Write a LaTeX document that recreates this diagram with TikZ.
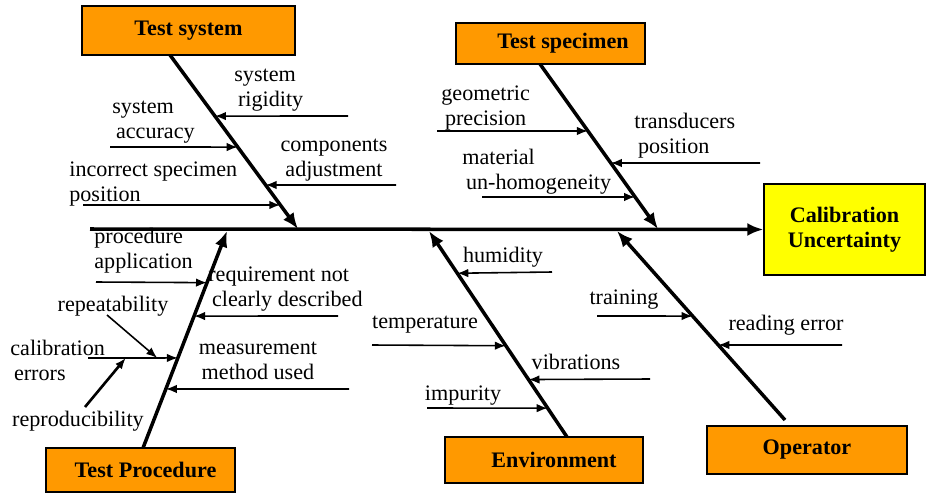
\documentclass[tikz,border=0pt]{standalone}
\usepackage{fontspec}
\setmainfont{LiberationSerif}[Extension=.ttf,UprightFont=*-Regular,BoldFont=*-Bold,ItalicFont=*-Italic,BoldItalicFont=*-BoldItalic]
\usetikzlibrary{arrows.meta,calc}
\definecolor{boxorange}{RGB}{255,153,0}
\definecolor{boxyellow}{RGB}{255,255,0}

\begin{document}
\begin{tikzpicture}[x=0.02cm,y=-0.02cm,
  >={Latex[length=2.2mm,width=1.7mm]},
  every node/.style={font=\fontsize{12.6}{14.2}\selectfont},
  cause/.style={rectangle,draw=black,line width=0.8pt,fill=boxorange,inner sep=0pt,font=\fontsize{12.6}{14.2}\selectfont\bfseries},
  effect/.style={rectangle,draw=black,line width=0.8pt,fill=boxyellow,inner sep=0pt,align=center,font=\fontsize{12.6}{14.2}\selectfont\bfseries},
  lbl/.style={inner sep=0pt,align=left},
  bone/.style={line width=2pt,->,>={Latex[length=3.2mm,width=2.6mm]}},
  twig/.style={line width=0.9pt,->}]
  \useasboundingbox (0,0) rectangle (930,494);

  \node[cause,minimum width=4.26cm,minimum height=0.98cm] (tsys) at (188.5,30.5) {Test system};
  \node[cause,minimum width=3.78cm,minimum height=0.82cm] (tspec) at (550.5,43.5) {\hspace{0.5cm}Test specimen};
  \node[cause,minimum width=3.78cm,minimum height=0.88cm] (tproc) at (140.5,470) {\hspace{0.2cm}Test Procedure};
  \node[cause,minimum width=3.96cm,minimum height=0.92cm] (env) at (544,460) {\hspace{0.4cm}Environment};
  \node[cause,minimum width=4.00cm,minimum height=0.96cm] (oper) at (807,450) {Operator};
  \node[effect,minimum width=3.22cm,minimum height=1.82cm] (calib) at (844.5,229.5) {Calibration\\Uncertainty};

  \coordinate (spinel) at (90,229);
  \draw[bone] (spinel) -- (calib.west);

  \coordinate (b1) at (170,55);  \coordinate (j1) at (298,229);
  \coordinate (b2) at (540,64);  \coordinate (j2) at (658,229);
  \coordinate (b3) at (143,448); \coordinate (j3) at (227,231);
  \coordinate (b4) at (567,437); \coordinate (j4) at (429,231);
  \coordinate (b5) at (785,420); \coordinate (j5) at (617,231);
  \draw[bone] (b1) -- (j1);
  \draw[bone] (b2) -- (j2);
  \draw[bone] (b3) -- (j3);
  \draw[bone] (b4) -- (j4);
  \draw[bone] (b5) -- (j5);

  \node[lbl,anchor=west] (rigid) at (234,90) {system\\\,rigidity};
  \coordinate (rigids) at (348,116);
  \draw[twig] (rigids) -- ($(b1)!0.351!(j1)$);
  \node[lbl,anchor=west] (accur) at (112,122) {system\\\,accuracy};
  \coordinate (accurs) at (110,147);
  \draw[twig] (accurs) -- ($(b1)!0.529!(j1)$);
  \node[lbl,align=center] (compadj) at (334,160) {components\\adjustment};
  \coordinate (compadjs) at (396,185);
  \draw[twig] (compadjs) -- ($(b1)!0.747!(j1)$);
  \node[lbl,anchor=west] (incpos) at (69,184) {incorrect specimen\\position};
  \coordinate (incposs) at (83,205);
  \draw[twig] (incposs) -- ($(b1)!0.862!(j1)$);

  \node[lbl,anchor=west] (geoprec) at (441,108) {geometric\\\,precision};
  \coordinate (geoprecs) at (437,131);
  \draw[twig] (geoprecs) -- ($(b2)!0.406!(j2)$);
  \node[lbl,anchor=west] (transpos) at (634,136) {transducers\\\,position};
  \coordinate (transposs) at (760,163);
  \draw[twig] (transposs) -- ($(b2)!0.6!(j2)$);
  \node[lbl,anchor=west] (mathom) at (462,172) {material\\\,un-homogeneity};
  \coordinate (mathoms) at (482,197);
  \draw[twig] (mathoms) -- ($(b2)!0.806!(j2)$);

  \node[lbl,anchor=west] (procapp) at (94,251) {procedure\\application};
  \coordinate (procapps) at (96,282);
  \draw[twig] (procapps) -- ($(b3)!0.762!(j3)$);
  \node[lbl,anchor=west] (reqnot) at (208,289) {requirement not\\\,clearly described};
  \coordinate (reqnots) at (338,316);
  \draw[twig] (reqnots) -- ($(b3)!0.608!(j3)$);
  \node[lbl,align=center] (measmeth) at (258,361) {measurement\\method used};
  \coordinate (measmeths) at (349,389);
  \draw[twig] (measmeths) -- ($(b3)!0.272!(j3)$);
  \node[lbl,anchor=west] (calerr) at (10,360) {calibration\\\,errors};
  \coordinate (calerrs) at (88,358);
  \coordinate (calerre) at ($(b3)!0.415!(j3)$);
  \draw[twig] (calerrs) -- (calerre);
  \node[lbl] (repeat) at (113,306) {repeatability};
  \coordinate (repeats) at (107,315);
  \draw[twig] (repeats) -- ($(calerrs)!0.77!(calerre)$);
  \node[lbl] (reprod) at (78,421) {reproducibility};
  \coordinate (reprods) at (85,407);
  \draw[twig,line width=1.5pt] (reprods) -- ($(calerrs)!0.42!(calerre)$);

  \node[lbl] (humid) at (503,257) {humidity};
  \coordinate (humids) at (552,272);
  \draw[twig] (humids) -- ($(b4)!0.795!(j4)$);
  \node[lbl] (temp) at (425,325) {temperature};
  \coordinate (temps) at (372,345);
  \draw[twig] (temps) -- ($(b4)!0.443!(j4)$);
  \node[lbl] (vibr) at (576,362) {vibrations};
  \coordinate (vibrs) at (650,379);
  \draw[twig] (vibrs) -- ($(b4)!0.279!(j4)$);
  \node[lbl] (impur) at (463,396) {impurity};
  \coordinate (impurs) at (427,408);
  \draw[twig] (impurs) -- ($(b4)!0.14!(j4)$);

  \node[lbl] (train) at (624,300) {training};
  \coordinate (trains) at (597,316);
  \draw[twig] (trains) -- ($(b5)!0.55!(j5)$);
  \node[lbl] (readerr) at (786,325) {reading error};
  \coordinate (readerrs) at (842,345);
  \draw[twig] (readerrs) -- ($(b5)!0.397!(j5)$);
\end{tikzpicture}
\end{document}
